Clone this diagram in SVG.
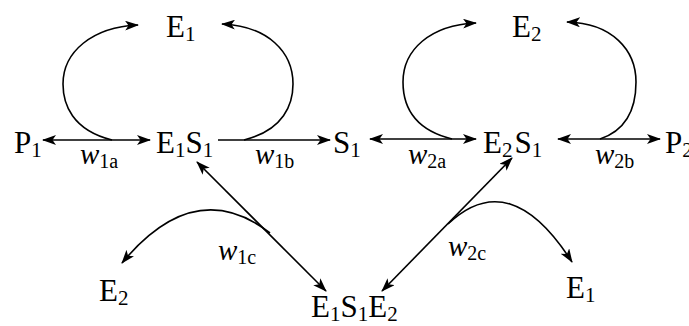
<svg xmlns="http://www.w3.org/2000/svg" width="689" height="326" viewBox="0 0 689 326">
<defs>
<style>
text{font-family:"Liberation Serif","DejaVu Serif",serif;font-size:31px;fill:#000}
.sub{font-size:21px}
.w{font-style:italic}
.lbl{font-size:29px}
.lbl .sub{font-size:20px}
.c{fill:none;stroke:#000;stroke-width:1.6}
</style>
<marker id="ah" viewBox="0 0 14 10" refX="13" refY="5" markerWidth="14" markerHeight="10" markerUnits="userSpaceOnUse" orient="auto-start-reverse">
<path d="M0,0 L14,5 L0,10 L3.5,5 z" fill="#000"/>
</marker>
</defs>
<rect width="689" height="326" fill="#fff"/>
<g id="connectors">
<line class="c" x1="43" y1="140" x2="150" y2="140" marker-start="url(#ah)" marker-end="url(#ah)"/>
<line class="c" x1="218" y1="140" x2="330" y2="140" marker-end="url(#ah)"/>
<line class="c" x1="370" y1="139" x2="476" y2="139" marker-start="url(#ah)" marker-end="url(#ah)"/>
<line class="c" x1="558" y1="139" x2="660" y2="139" marker-start="url(#ah)" marker-end="url(#ah)"/>
<path class="c" d="M112 140 C72 130 63 104 63 84 C63 52 92 27 138 25" marker-end="url(#ah)"/>
<path class="c" d="M244 140 C284 130 293 104 293 84 C293 52 268 26 222 24" marker-end="url(#ah)"/>
<path class="c" d="M452 139 C412 129 403 104 403 82 C403 50 430 25 476 23" marker-end="url(#ah)"/>
<path class="c" d="M600 139 C630 129 636 104 636 82 C636 50 612 23 567 22" marker-end="url(#ah)"/>
<line class="c" x1="197" y1="162" x2="326" y2="291" marker-start="url(#ah)" marker-end="url(#ah)"/>
<line class="c" x1="512" y1="158" x2="382" y2="291" marker-start="url(#ah)" marker-end="url(#ah)"/>
<path class="c" d="M270 233 Q195 175 122 263" marker-end="url(#ah)"/>
<path class="c" d="M448 224 Q510 165 572 262" marker-end="url(#ah)"/>
</g>
<g id="E1top"><text x="166" y="37">E<tspan class="sub" dy="4">1</tspan></text></g>
<g id="E2top"><text x="512" y="37">E<tspan class="sub" dy="4">2</tspan></text></g>
<g id="P1"><text x="14" y="153">P<tspan class="sub" dy="4">1</tspan></text></g>
<g id="E1S1"><text x="156" y="153">E<tspan class="sub" dy="4">1</tspan><tspan dy="-4">S</tspan><tspan class="sub" dy="4">1</tspan></text></g>
<g id="S1"><text x="333" y="153">S<tspan class="sub" dy="4">1</tspan></text></g>
<g id="E2S1"><text x="483" y="153">E<tspan class="sub" dy="4">2</tspan><tspan dy="-4" dx="2">S</tspan><tspan class="sub" dy="4">1</tspan></text></g>
<g id="P2"><text x="665" y="153">P<tspan class="sub" dy="4">2</tspan></text></g>
<g id="E2bottom"><text x="99" y="301">E<tspan class="sub" dy="4">2</tspan></text></g>
<g id="E1bottom"><text x="566" y="298">E<tspan class="sub" dy="4">1</tspan></text></g>
<g id="E1S1E2"><text x="311" y="317">E<tspan class="sub" dy="4">1</tspan><tspan dy="-4">S</tspan><tspan class="sub" dy="4">1</tspan><tspan dy="-4">E</tspan><tspan class="sub" dy="4">2</tspan></text></g>
<g id="labels">
<text class="lbl" x="80" y="164"><tspan class="w">w</tspan><tspan class="sub" dy="4">1a</tspan></text>
<text class="lbl" x="255" y="164"><tspan class="w">w</tspan><tspan class="sub" dy="4">1b</tspan></text>
<text class="lbl" x="408" y="164"><tspan class="w">w</tspan><tspan class="sub" dy="4">2a</tspan></text>
<text class="lbl" x="595" y="164"><tspan class="w">w</tspan><tspan class="sub" dy="4">2b</tspan></text>
<text class="lbl" x="218" y="260"><tspan class="w">w</tspan><tspan class="sub" dy="4">1c</tspan></text>
<text class="lbl" x="448" y="256"><tspan class="w">w</tspan><tspan class="sub" dy="4">2c</tspan></text>
</g>
</svg>
